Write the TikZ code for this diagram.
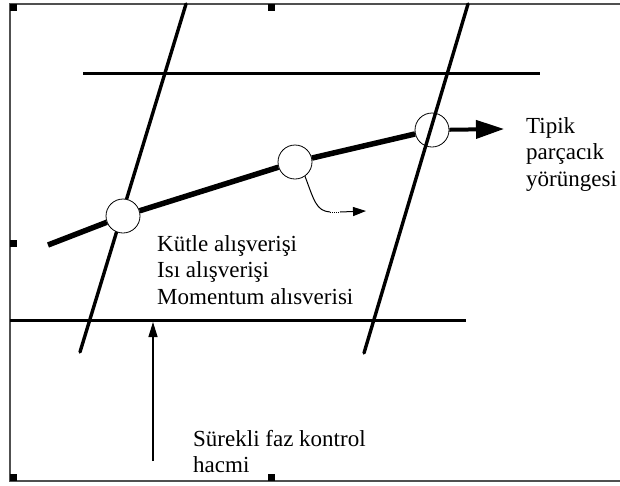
\documentclass[tikz,border=0pt]{standalone}
\usepackage{fontspec}
\setmainfont{Liberation Serif}
\usepackage{tikz}
\usetikzlibrary{arrows.meta, positioning, calc}
\definecolor{FrameGray}{RGB}{80, 80, 80}
\definecolor{HandleBlack}{RGB}{0, 0, 0}

\begin{document}
\begin{tikzpicture}[
    x=1pt, y=-1pt,
    framebox/.style={draw=FrameGray, line width=1.6pt},
    wall/.style={line width=3pt},
    faceline/.style={line width=3.4pt, line cap=round},
    drop/.style={circle, draw, line width=0.8pt, minimum size=34pt, inner sep=0pt},
    pathline/.style={line width=5.5pt},
    labeltext/.style={
      inner sep=0pt,
      align=left,
      font=\fontsize{23}{26.5}\selectfont
    }
  ]
  \useasboundingbox (0,0) rectangle (620,485);

  % frame with handles
  \draw[framebox] (620,4) -- (10,4) -- (10,481) -- (620,481);
  \foreach \hx/\hy in {10/4, 268/4, 10/240, 10/474, 268/474}
    \fill[HandleBlack] (\hx,\hy) rectangle ++(7,7);

  % control volume faces
  \coordinate (topL) at (83,73);
  \coordinate (topR) at (540,73);
  \coordinate (botL) at (10,320);
  \coordinate (botR) at (466,320);
  \draw[wall] (topL) -- (topR);
  \draw[wall] (botL) -- (botR);

  \coordinate (leftTop) at (186,4);
  \coordinate (leftBot) at (80,352);
  \coordinate (rightTop) at (468,4);
  \coordinate (rightBot) at (364,353);
  \draw[faceline] (leftTop) -- (leftBot);
  \draw[faceline] (rightTop) -- (rightBot);

  % particle trajectory
  \node[drop, fill=white] (c1) at (123,216) {};
  \node[drop, fill=white] (c2) at (295,162) {};
  \node[drop] (c3) at (432,130) {};
  \coordinate (trajStart) at (48,245);
  \coordinate (trajEnd) at (504,129);
  \draw[pathline] (trajStart) -- (c1) -- (c2) -- (c3);
  \draw[line width=4pt, -{Triangle[length=28pt, width=18pt]}] (c3) -- (trajEnd);

  % side stream from the middle particle
  \coordinate (sideMid) at (330,212);
  \coordinate (sideArr) at (340,212);
  \coordinate (sideEnd) at (366,211);
  \draw[line width=1pt] (c2.-55) .. controls (314,200) and (316,211) .. (sideMid);
  \draw[line width=1pt, densely dotted] (sideMid) -- (sideArr);
  \draw[line width=1pt, -{Triangle[length=13pt, width=9pt]}] (sideArr) -- (sideEnd);

  % labels
  \node[labeltext, anchor=north west] (exchange) at (157,235) {
    Kütle alışverişi\\
    Isı alışverişi\\
    Momentum alısverisi
  };
  \node[labeltext, anchor=north west] (typical) at (526,117) {
    Tipik\\
    parçacık\\
    yörüngesi
  };
  \node[labeltext, anchor=north west] (volume) at (193,430) {
    Sürekli faz kontrol\\
    hacmi
  };

  % pointer to the control volume face
  \coordinate (pointFrom) at (153,461);
  \coordinate (pointTo) at (153,322);
  \draw[line width=1.3pt, -{Triangle[length=15pt, width=9pt]}] (pointFrom) -- (pointTo);
\end{tikzpicture}
\end{document}
